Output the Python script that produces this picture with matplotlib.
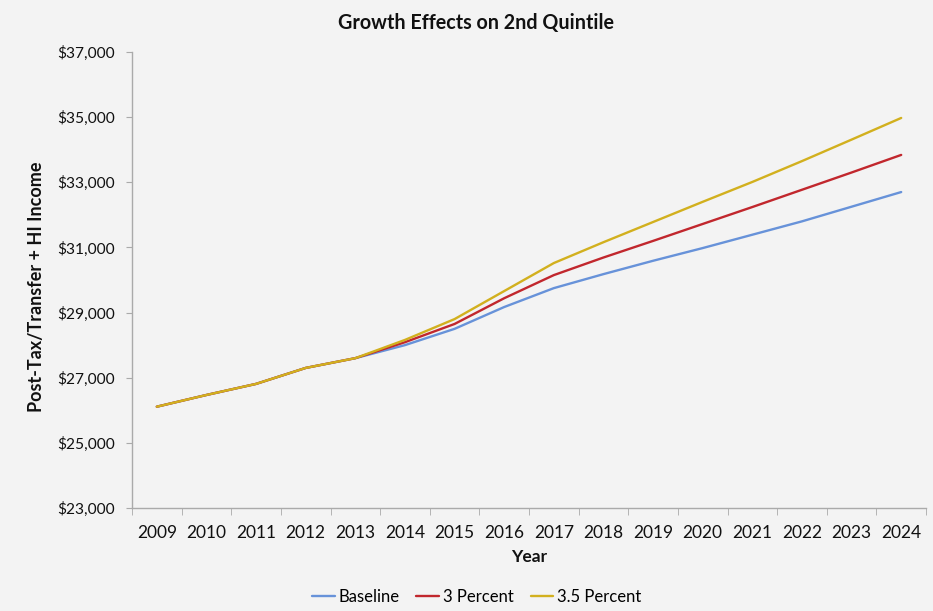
import matplotlib
matplotlib.use("Agg")
import matplotlib.pyplot as plt
from matplotlib.ticker import FuncFormatter, FixedLocator

years = list(range(2009, 2025))
baseline = [26110, 26470, 26810, 27300, 27600, 28000, 28500, 29170, 29750,
            30180, 30590, 30980, 31390, 31800, 32250, 32700]
pct_3 = [26110, 26470, 26810, 27300, 27600, 28090, 28650, 29440, 30150,
         30690, 31200, 31720, 32240, 32770, 33300, 33840]
pct_35 = [26110, 26470, 26810, 27300, 27600, 28160, 28800, 29660, 30520,
          31160, 31780, 32400, 33010, 33650, 34310, 34975]
series_names = ["Baseline", "3 Percent", "3.5 Percent"]
series_colors = ["#6792d9", "#c1272d", "#d2b01e"]

plt.rcParams["font.family"] = ["Lato", "DejaVu Sans"]
bg = "#f3f3f3"
ink = "#111111"

fig = plt.figure(figsize=(9.33, 6.11), dpi=100, facecolor=bg)
ax = fig.add_axes([0.1415, 0.1686, 0.851, 0.7463], facecolor=bg)

for vals, name, col in zip([baseline, pct_3, pct_35], series_names, series_colors):
    ax.plot(years, vals, color=col, lw=1.7, label=name, solid_capstyle="round")

ax.set_xlim(years[0] - 0.5, years[-1] + 0.5)
ax.set_ylim(23000, 37000)
ax.set_yticks(range(23000, 37001, 2000))
ax.yaxis.set_major_formatter(FuncFormatter(lambda v, p: f"${v:,.0f}"))

ax.set_xticks(years)
ax.set_xticklabels([str(y) for y in years])
ax.xaxis.set_minor_locator(FixedLocator([y - 0.5 for y in years] + [years[-1] + 0.5]))
ax.tick_params(axis="x", which="major", length=0, pad=12, labelsize=12.5, labelcolor=ink)
ax.tick_params(axis="x", which="minor", length=5, color="#aaaaaa", direction="out")
ax.tick_params(axis="y", which="major", length=4.5, color="#aaaaaa", labelsize=11.2,
               labelcolor=ink, pad=8)

for s in ["top", "right"]:
    ax.spines[s].set_visible(False)
for s in ["left", "bottom"]:
    ax.spines[s].set_color("#aaaaaa")
    ax.spines[s].set_linewidth(1.0)

ax.set_xlabel("Year", fontsize=12.5, fontweight="bold", labelpad=6, color=ink)
ax.set_ylabel("Post-Tax/Transfer + HI Income", fontsize=13, fontweight="bold", color=ink)
ax.yaxis.set_label_coords(-0.11, 0.485)

fig.text(0.51, 0.962, "Growth Effects on 2nd Quintile", ha="center", va="center",
         fontsize=14.2, fontweight="bold", color=ink)

fig.legend(loc="center", bbox_to_anchor=(0.511, 0.023), ncol=3, frameon=False,
           fontsize=12, handlelength=1.35, handletextpad=0.25, columnspacing=1.0)

fig.savefig("out.png", dpi=100, facecolor=bg)
